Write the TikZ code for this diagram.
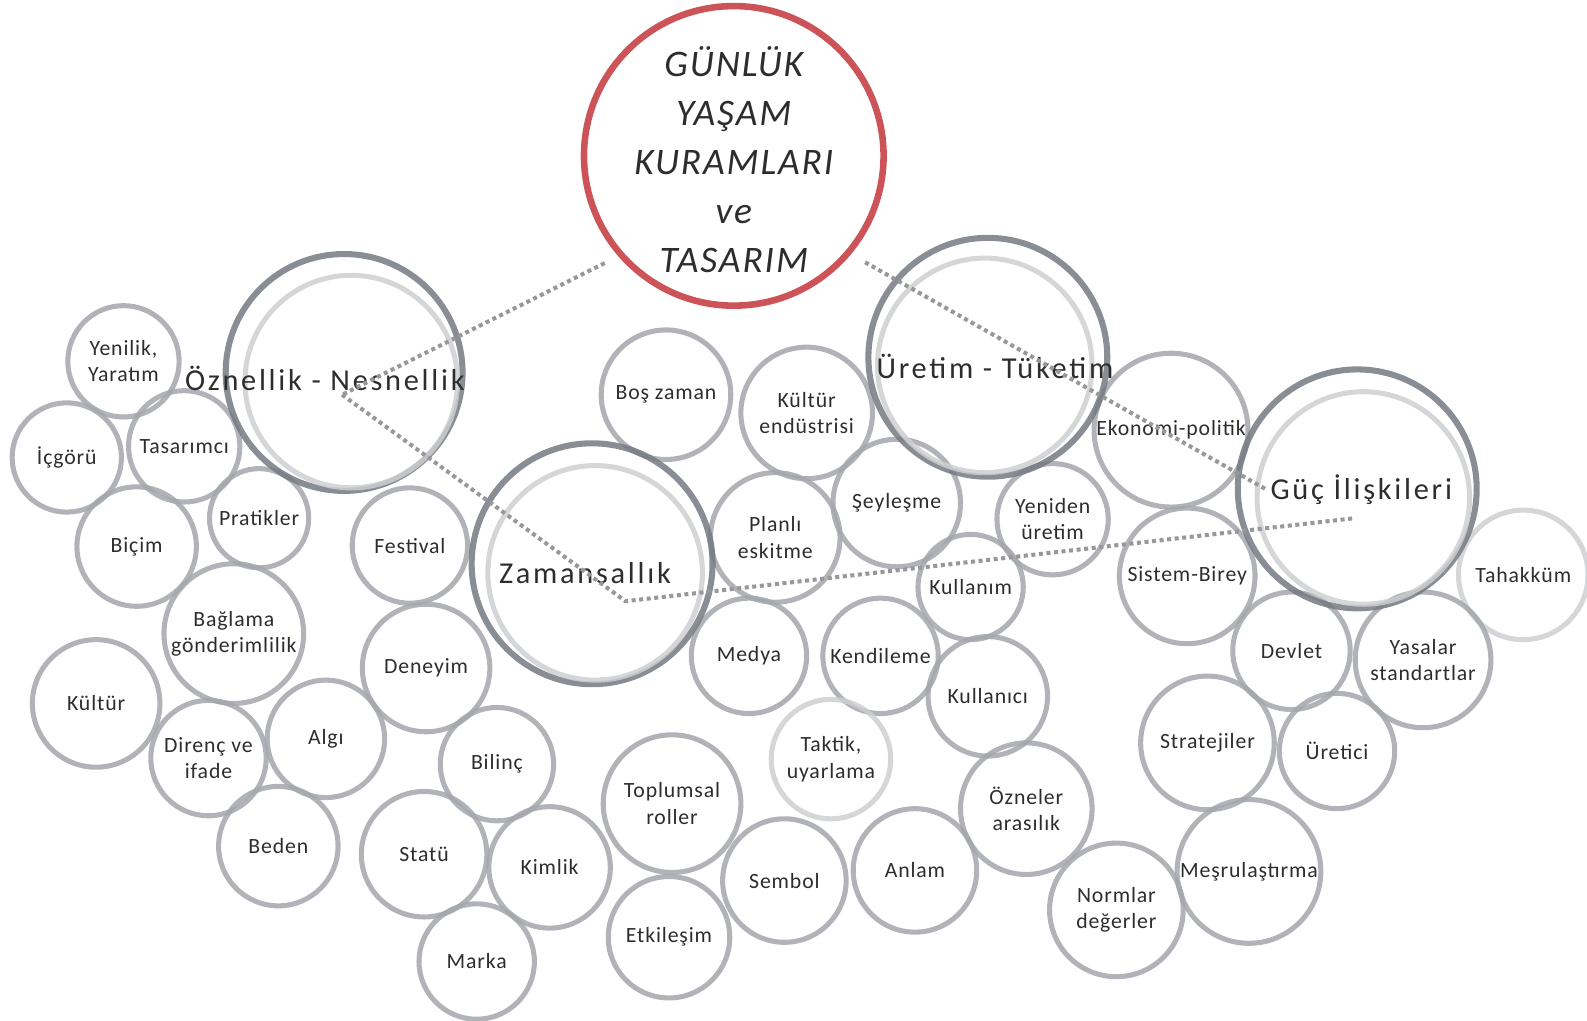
\documentclass[tikz,border=0pt]{standalone}
\usepackage{fontspec}
\setmainfont{Carlito}
\usepackage{xcolor}
\usepackage{tikz}

\definecolor{ringgray}{RGB}{163,166,171}
\definecolor{ringpale}{RGB}{206,207,209}
\definecolor{ringdark}{RGB}{116,121,129}
\definecolor{ringred}{RGB}{204,84,88}
\definecolor{txtgray}{RGB}{45,45,45}
\definecolor{dotgray}{RGB}{152,152,154}

\begin{document}
\begin{tikzpicture}[x=1pt,y=-1pt,
  bub/.style={circle,draw=ringgray,line width=5pt,draw opacity=0.85,inner sep=0pt},
  bubpale/.style={bub,draw=ringpale},
  bigring/.style={circle,draw=ringdark,line width=6pt,draw opacity=0.85,inner sep=0pt},
  inring/.style={circle,draw=ringpale,line width=5pt,draw opacity=0.85,inner sep=0pt},
  lbl/.style={align=center,text=txtgray,font=\fontsize{21.5}{26}\selectfont\addfontfeature{LetterSpace=4}},
  biglbl/.style={text=txtgray,font=\fontsize{30}{32}\selectfont\addfontfeature{LetterSpace=9}},
  dotline/.style={draw=dotgray,line width=4pt,dash pattern=on 4pt off 3.5pt}]
  \useasboundingbox (0,0) rectangle (1568,1008);

  \node[bub,minimum size=110pt,label={[lbl]center:{Yenilik,\\Yaratım}}] (yenilik) at (122,357) {};
  \node[bub,minimum size=108pt,label={[lbl]center:İçgörü}] (icgoru) at (66,452) {};
  \node[bub,minimum size=110pt,label={[lbl]center:Tasarımcı}] (tasarimci) at (182,441) {};
  \node[bub,minimum size=118pt,label={[lbl]center:Biçim}] (bicim) at (135,540) {};
  \node[bub,minimum size=98pt,label={[lbl]center:Pratikler}] (pratik) at (256,512) {};
  \node[bub,minimum size=138pt,label={[lbl]center:{Bağlama\\gönderimlilik}}] (baglama) at (231,626) {};
  \node[bub,minimum size=126pt,label={[lbl]center:Kültür}] (kultur) at (95,695) {};
  \node[bub,minimum size=114pt,label={[lbl]center:{Direnç ve\\ifade}}] (direnc) at (206,749) {};
  \node[bub,minimum size=116pt,label={[lbl]center:Algı}] (algi) at (322,730) {};
  \node[bub,minimum size=118pt,label={[lbl]center:Beden}] (beden) at (275,836) {};
  \node[bub,minimum size=114pt,label={[lbl]center:Festival}] (festival) at (405,539) {};
  \node[bub,minimum size=126pt,label={[lbl]center:Deneyim}] (deneyim) at (421,660) {};
  \node[bub,minimum size=112pt,label={[lbl]center:Bilinç}] (bilinc) at (491,755) {};
  \node[bub,minimum size=124pt,label={[lbl]center:Statü}] (statu) at (419,844) {};
  \node[bub,minimum size=120pt,label={[lbl]center:Kimlik}] (kimlik) at (543,857) {};
  \node[bub,minimum size=114pt,label={[lbl]center:Marka}] (marka) at (471,950) {};
  \node[bub,minimum size=128pt,label={[lbl]center:Boş zaman}] (boszaman) at (658,390) {};
  \node[bub,minimum size=130pt,label={[lbl]center:{Kültür\\endüstrisi}}] (kulend) at (797,408) {};
  \node[bub,minimum size=128pt,label={[lbl]center:{Planlı\\eskitme}}] (planli) at (766,531) {};
  \node[bub,minimum size=126pt,label={[lbl]center:Şeyleşme}] (seyles) at (886,497) {};
  \node[bub,minimum size=110pt,label={[lbl]center:{Yeniden\\üretim}}] (yeniden) at (1040,513) {};
  \node[bub,minimum size=104pt,label={[lbl]center:Kullanım}] (kullanim) at (959,580) {};
  \node[bub,minimum size=114pt,label={[lbl]center:Medya}] (medya) at (740,648) {};
  \node[bub,minimum size=114pt,label={[lbl]center:Kendileme}] (kendile) at (870,648) {};
  \node[bub,minimum size=118pt,label={[lbl]center:Kullanıcı}] (kullanici) at (976,688) {};
  \node[bubpale,minimum size=118pt,label={[lbl]center:{Taktik,\\uyarlama}}] (taktik) at (821,750) {};
  \node[bub,minimum size=136pt,label={[lbl]center:{Toplumsal\\roller}}] (toplum) at (664,794) {};
  \node[bub,minimum size=122pt,label={[lbl]center:Sembol}] (sembol) at (775,870) {};
  \node[bub,minimum size=122pt,label={[lbl]center:Anlam}] (anlam) at (904,860) {};
  \node[bub,minimum size=120pt,label={[lbl]center:Etkileşim}] (etkiles) at (661,926) {};
  \node[bub,minimum size=130pt,label={[lbl]center:{Özneler\\arasılık}}] (ozneler) at (1014,799) {};
  \node[bub,minimum size=132pt,label={[lbl]center:{Normlar\\değerler}}] (normlar) at (1103,899) {};
  \node[bub,minimum size=142pt,label={[lbl]center:Meşrulaştırma}] (mesru) at (1234,861) {};
  \node[bub,minimum size=152pt,label={[lbl]center:Ekonomi-politik}] (ekonomi) at (1157,425) {};
  \node[bub,minimum size=134pt,label={[lbl]center:Sistem-Birey}] (sistem) at (1173,569) {};
  \node[bubpale,minimum size=128pt,label={[lbl]center:Tahakküm}] (tahakkum) at (1505,568) {};
  \node[bub,minimum size=116pt,label={[lbl]center:Devlet}] (devlet) at (1276,643) {};
  \node[bub,minimum size=134pt,label={[lbl]center:{Yasalar\\standartlar}}] (yasalar) at (1406,652) {};
  \node[bub,minimum size=132pt,label={[lbl]center:Stratejiler}] (strateji) at (1193,734) {};
  \node[bub,minimum size=114pt,label={[lbl]center:Üretici}] (uretici) at (1321,742) {};

  \node[bigring,minimum size=234pt] (oznel) at (340,368) {};
  \node[inring,minimum size=210pt] (oznel-in) at (347,377) {};
  \node[bigring,minimum size=236pt] (uretim) at (976,353) {};
  \node[inring,minimum size=212pt] (uretim-in) at (973,361) {};
  \node[bigring,minimum size=238pt] (zaman) at (585,557) {};
  \node[inring,minimum size=212pt] (zaman-in) at (588,566) {};
  \node[bigring,minimum size=236pt] (guc) at (1341,483) {};
  \node[inring,minimum size=210pt] (guc-in) at (1347,492) {};
  \node[circle,draw=ringred,line width=6.5pt,minimum size=296pt,inner sep=0pt] (gunluk) at (725,154) {};

  \node[biglbl] (oznel-t) at (321,374) {Öznellik - Nesnellik};
  \node[biglbl] (uretim-t) at (983,362) {Üretim - Tüketim};
  \node[biglbl] (zaman-t) at (578,566) {Zamansallık};
  \node[biglbl] (guc-t) at (1345,484) {Güç İlişkileri};
  \node[align=center,text=txtgray,font=\fontsize{37}{48.5}\selectfont\itshape\addfontfeature{LetterSpace=5}] (gunluk-t) at (725,158) {GÜNLÜK\\YAŞAM\\KURAMLARI\\ve\\TASARIM};

  \coordinate (oznel-j) at (338,390);
  \coordinate (zaman-j) at (618,594);
  \coordinate (guc-j) at (1338,512);
  \draw[dotline,shorten <=15pt] (gunluk.-139) -- (oznel-j);
  \draw[dotline] (oznel-j) -- (zaman-j) -- (guc-j);
  \draw[dotline,shorten <=16pt] (gunluk.-40) -- (guc-t.west);
\end{tikzpicture}
\end{document}
